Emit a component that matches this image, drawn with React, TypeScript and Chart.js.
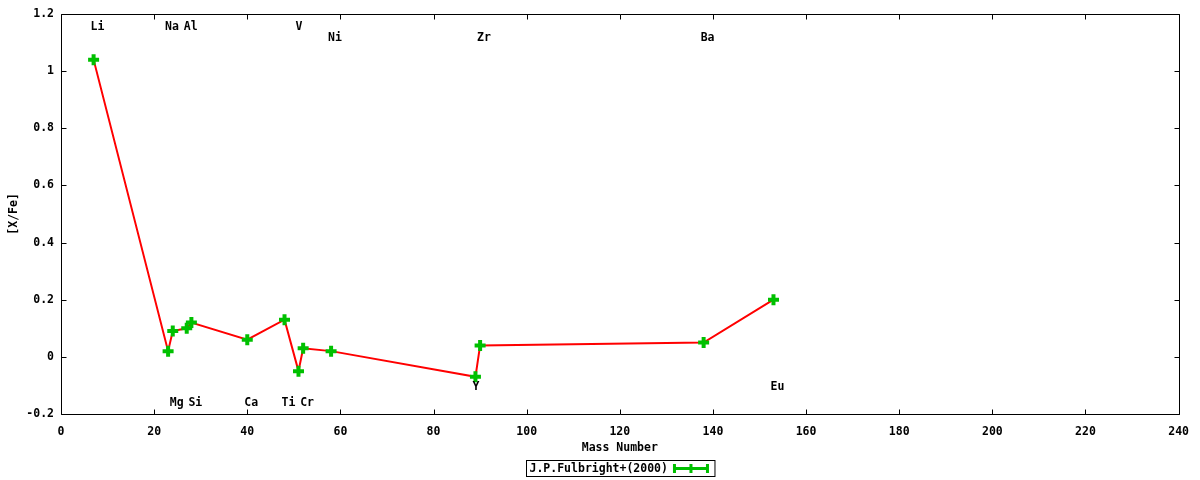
import { useEffect, useRef } from "react"
import { Chart, registerables } from "chart.js"

Chart.register(...registerables)

// Fulbright (2000) abundances, [X/Fe] against mass number
const elements = ["Li", "Na", "Mg", "Al", "Si", "Ca", "Ti", "V", "Cr", "Ni", "Y", "Zr", "Ba", "Eu"]
const massNumbers = [7, 23, 24, 27, 28, 40, 48, 51, 52, 58, 89, 90, 138, 153]
const xFe = [1.04, 0.02, 0.09, 0.1, 0.12, 0.06, 0.13, -0.05, 0.03, 0.02, -0.07, 0.04, 0.05, 0.2]
// where each element name sits on the [X/Fe] axis
const labelLevels = [1.155, 1.155, -0.16, 1.155, -0.16, -0.16, -0.16, 1.155, -0.16, 1.115, -0.105, 1.115, 1.115, -0.105]

const seriesName = "J.P.Fulbright+(2000)"
const xTicks = { min: 0, max: 240, step: 20 }
const yTicks = { min: -0.2, max: 1.2, step: 0.2 }

const FONT = "bold 11.5px 'DejaVu Sans Mono', monospace"
const GREEN = "#00c000"

const gnuplotFrame = {
  id: "gnuplotFrame",
  afterDraw(chart: Chart) {
    const { ctx, chartArea: a } = chart
    const xs = chart.scales.x
    const ys = chart.scales.y
    const snap = (v: number) => Math.round(v) + 0.5
    const left = snap(xs.getPixelForValue(xTicks.min))
    const right = snap(xs.getPixelForValue(xTicks.max))
    const top = snap(ys.getPixelForValue(yTicks.max))
    const bottom = snap(ys.getPixelForValue(yTicks.min))
    ctx.save()
    ctx.strokeStyle = "#000"
    ctx.lineWidth = 1
    ctx.beginPath()
    ctx.rect(left, top, right - left, bottom - top)
    // inward ticks, mirrored on all four sides
    const len = 5
    xs.ticks.forEach((t) => {
      const px = snap(xs.getPixelForValue(t.value))
      ctx.moveTo(px, bottom)
      ctx.lineTo(px, bottom - len)
      ctx.moveTo(px, top)
      ctx.lineTo(px, top + len)
    })
    ys.ticks.forEach((t) => {
      const py = snap(ys.getPixelForValue(t.value))
      ctx.moveTo(left, py)
      ctx.lineTo(left + len, py)
      ctx.moveTo(right, py)
      ctx.lineTo(right - len, py)
    })
    ctx.stroke()

    // element names
    ctx.font = FONT
    ctx.fillStyle = "#000"
    ctx.textAlign = "left"
    ctx.textBaseline = "middle"
    elements.forEach((el, i) => {
      const px = xs.getPixelForValue(massNumbers[i])
      const py = ys.getPixelForValue(labelLevels[i])
      ctx.fillText(el, px - 3, py)
    })

    // legend box
    const textW = ctx.measureText(seriesName).width
    const sampleW = 36
    const boxW = textW + sampleW + 14
    const boxH = 16
    const cx = (a.left + a.right) / 2
    const bx = Math.round(cx - boxW / 2) + 0.5
    const by = 460.5
    ctx.strokeRect(bx, by, boxW, boxH)
    ctx.fillText(seriesName, bx + 3, by + boxH / 2 + 0.5)
    const sx0 = bx + textW + 8
    const sx1 = sx0 + sampleW
    const sy = by + boxH / 2
    ctx.strokeStyle = GREEN
    ctx.lineWidth = 3
    ctx.beginPath()
    ctx.moveTo(sx0, sy)
    ctx.lineTo(sx1, sy)
    ;[sx0 + 1.5, (sx0 + sx1) / 2, sx1 - 1.5].forEach((tx) => {
      ctx.moveTo(tx, sy - 4.5)
      ctx.lineTo(tx, sy + 4.5)
    })
    ctx.stroke()
    ctx.restore()
  },
}

export default function App() {
  const chartRef = useRef<HTMLCanvasElement>(null)
  const chartInstance = useRef<Chart | null>(null)

  useEffect(() => {
    document.body.style.margin = "0"
    if (!chartRef.current) return
    if (chartInstance.current) chartInstance.current.destroy()
    const ctx = chartRef.current.getContext("2d")
    if (!ctx) return

    const tickFont = { family: "'DejaVu Sans Mono', monospace", size: 11.5, weight: "bold" as const }

    chartInstance.current = new Chart(ctx, {
      type: "scatter",
      data: {
        datasets: [
          {
            label: seriesName,
            data: massNumbers.map((m, i) => ({ x: m, y: xFe[i] })),
            showLine: true,
            borderColor: "#ff0000",
            borderWidth: 2,
            pointStyle: "cross",
            pointRadius: 5.5,
            pointHoverRadius: 5.5,
            pointBorderWidth: 4,
            pointBorderColor: GREEN,
            pointBackgroundColor: GREEN,
          },
        ],
      },
      options: {
        responsive: false,
        animation: false,
        layout: { padding: { top: 13, right: 21, left: 0, bottom: 0 } },
        scales: {
          x: {
            type: "linear",
            min: xTicks.min,
            max: xTicks.max,
            ticks: { stepSize: xTicks.step, color: "#000", font: tickFont, padding: 11, maxRotation: 0 },
            grid: { drawOnChartArea: false, drawTicks: false },
            border: { display: false },
            title: {
              display: true,
              text: "Mass Number",
              color: "#000",
              font: tickFont,
              padding: { top: 0, bottom: 25 },
            },
            afterFit: (scale) => {
              scale.height = 66
            },
          },
          y: {
            type: "linear",
            min: yTicks.min,
            max: yTicks.max,
            ticks: {
              stepSize: yTicks.step,
              color: "#000",
              font: tickFont,
              padding: 7,
              callback: (v) => String(Number(Number(v).toFixed(1))),
            },
            grid: { drawOnChartArea: false, drawTicks: false },
            border: { display: false },
            title: {
              display: true,
              text: "[X/Fe]",
              color: "#000",
              font: tickFont,
              padding: { top: 7, bottom: 0 },
            },
            afterFit: (scale) => {
              scale.width = 61
            },
          },
        },
        plugins: {
          legend: { display: false },
          tooltip: { enabled: false },
        },
      },
      plugins: [gnuplotFrame],
    })

    return () => {
      if (chartInstance.current) {
        chartInstance.current.destroy()
        chartInstance.current = null
      }
    }
  }, [])

  return (
    <div style={{ width: 1200, height: 480, background: "#fff" }}>
      <canvas ref={chartRef} width={1200} height={480}></canvas>
    </div>
  )
}
